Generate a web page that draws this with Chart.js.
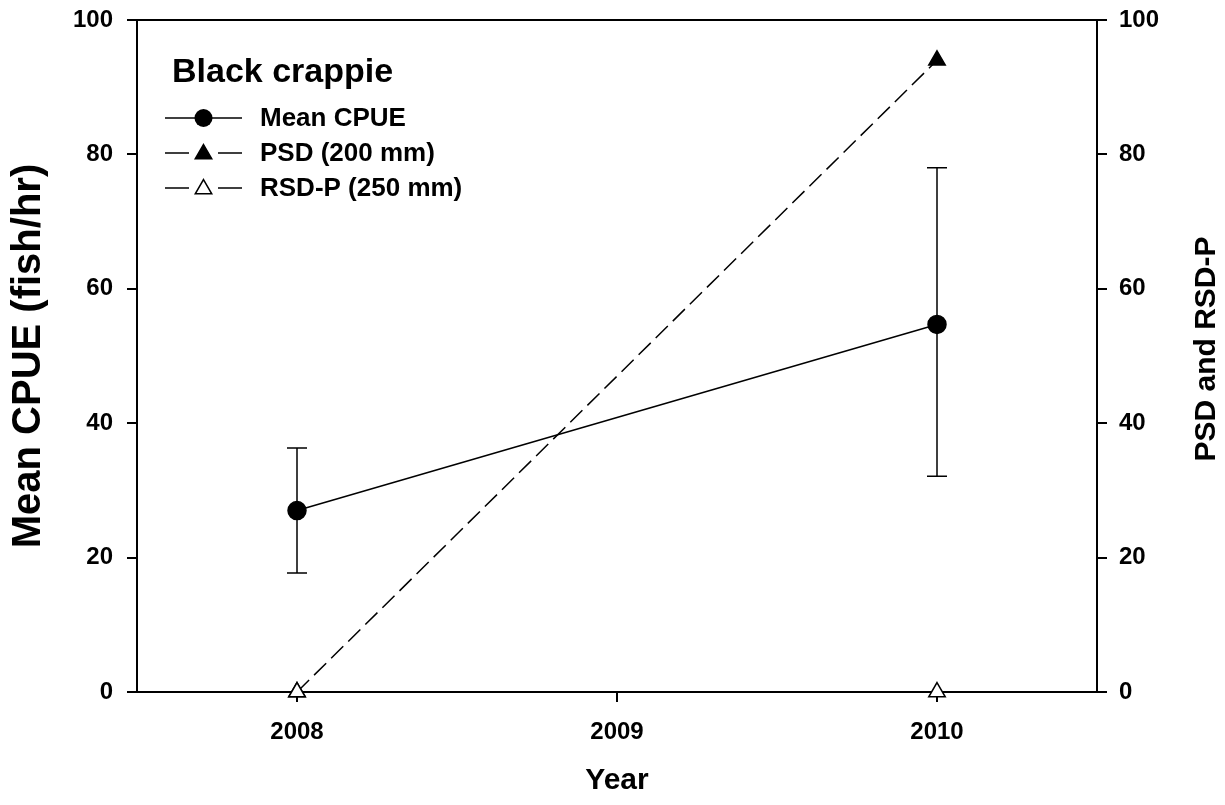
<!DOCTYPE html>
<html>
<head>
<meta charset="utf-8">
<title>Black crappie</title>
<script src="https://cdn.jsdelivr.net/npm/chart.js@4/dist/chart.umd.min.js"></script>
<style>
  html, body { margin: 0; padding: 0; background: #fff; }
  #wrap { width: 1225px; height: 805px; }
</style>
</head>
<body>
<div id="wrap"><canvas id="chart" width="1225" height="805"></canvas></div>
<script>
// donnees
const years = [2008, 2010];
const cpueMean = [27, 54.7];
const cpueLow = [17.7, 32.1];
const cpueHigh = [36.3, 78];
const psd = [0, 94];
const rsdP = [0, 0];
const xTicks = [2008, 2009, 2010];
const legendTitle = 'Black crappie';
const legendLabels = ['Mean CPUE', 'PSD (200 mm)', 'RSD-P (250 mm)'];

const FONT = '"Liberation Sans", Arial, Helvetica, sans-serif';
const DASH = [17, 7];

function pts(ys) {
    return years.map((x, i) => ({ x: x, y: ys[i] }));
}

// barres d'erreur autour de la moyenne
const errorBars = {
    id: 'errorBars',
    beforeDatasetsDraw(chart) {
        const ctx = chart.ctx;
        const xs = chart.scales.x, ys = chart.scales.y;
        ctx.save();
        ctx.strokeStyle = '#000';
        ctx.lineWidth = 1.5;
        years.forEach((yr, i) => {
            const px = xs.getPixelForValue(yr);
            const top = ys.getPixelForValue(cpueHigh[i]);
            const bot = ys.getPixelForValue(cpueLow[i]);
            ctx.beginPath();
            ctx.moveTo(px, top); ctx.lineTo(px, bot);
            ctx.moveTo(px - 10, top); ctx.lineTo(px + 10, top);
            ctx.moveTo(px - 10, bot); ctx.lineTo(px + 10, bot);
            ctx.stroke();
        });
        ctx.restore();
    }
};

function drawTriangle(ctx, x, y, r, fill) {
    const side = 3 * r / Math.sqrt(3);
    const h = side * Math.sqrt(3) / 2;
    ctx.beginPath();
    ctx.moveTo(x, y - 2 * h / 3);
    ctx.lineTo(x + side / 2, y + h / 3);
    ctx.lineTo(x - side / 2, y + h / 3);
    ctx.closePath();
    ctx.fillStyle = fill;
    ctx.fill();
    ctx.stroke();
}

// legende dessinee a la main (ligne + symbole)
const customLegend = {
    id: 'customLegend',
    afterDraw(chart) {
        const ctx = chart.ctx;
        ctx.save();
        ctx.fillStyle = '#000';
        ctx.strokeStyle = '#000';
        ctx.textBaseline = 'alphabetic';
        ctx.font = 'bold 34px ' + FONT;
        ctx.fillText(legendTitle, 172, 82);

        const rows = [118, 153, 188];
        ctx.font = 'bold 26px ' + FONT;
        ctx.textBaseline = 'middle';
        rows.forEach((y, i) => {
            ctx.lineWidth = 1.5;
            ctx.beginPath();
            if (i === 0) {
                ctx.moveTo(165, y); ctx.lineTo(242, y);
            } else {
                ctx.moveTo(165, y); ctx.lineTo(189, y);
                ctx.moveTo(218, y); ctx.lineTo(242, y);
            }
            ctx.stroke();
            if (i === 0) {
                ctx.beginPath();
                ctx.arc(203.5, y, 9, 0, Math.PI * 2);
                ctx.fillStyle = '#000';
                ctx.fill();
            } else {
                drawTriangle(ctx, 203.5, y + 1, 9.5, i === 1 ? '#000' : '#fff');
            }
            ctx.fillStyle = '#000';
            ctx.fillText(legendLabels[i], 260, y + 1);
        });

        // titre de l'axe de droite, lu de bas en haut
        ctx.font = 'bold 30px ' + FONT;
        ctx.textAlign = 'center';
        ctx.textBaseline = 'middle';
        const ca = chart.chartArea;
        ctx.translate(1207, (ca.top + ca.bottom) / 2 - 7);
        ctx.rotate(-Math.PI / 2);
        ctx.fillText('PSD and RSD-P', 0, 0);
        ctx.restore();
    }
};

const tickFont = { family: FONT, size: 24, weight: 'bold' };

// pas de marge ajoutee pour les etiquettes en bout d'axe
function noPad(s) {
    s.paddingTop = 0;
    s.paddingBottom = 0;
}

const ctx = document.getElementById('chart').getContext('2d');
const chart = new Chart(ctx, {
    type: 'line',
    data: {
        datasets: [
            {
                label: legendLabels[2],
                data: pts(rsdP),
                yAxisID: 'y2',
                borderColor: '#000',
                borderWidth: 1.5,
                borderDash: DASH,
                pointStyle: 'triangle',
                pointRadius: 9.5,
                pointBackgroundColor: '#fff',
                pointBorderColor: '#000',
                pointBorderWidth: 1.5,
                clip: false,
                order: 0
            },
            {
                label: legendLabels[1],
                data: pts(psd),
                yAxisID: 'y2',
                borderColor: '#000',
                borderWidth: 1.5,
                borderDash: DASH,
                pointStyle: 'triangle',
                pointRadius: 9.5,
                pointBackgroundColor: '#000',
                pointBorderColor: '#000',
                pointBorderWidth: 1.5,
                clip: false,
                order: 1
            },
            {
                label: legendLabels[0],
                data: pts(cpueMean),
                yAxisID: 'y',
                borderColor: '#000',
                borderWidth: 1.5,
                pointStyle: 'circle',
                pointRadius: 9,
                pointBackgroundColor: '#000',
                pointBorderColor: '#000',
                clip: false,
                order: 2
            }
        ]
    },
    options: {
        responsive: false,
        animation: false,
        devicePixelRatio: 1,
        layout: { padding: 0 },
        plugins: {
            legend: { display: false },
            tooltip: { enabled: false }
        },
        scales: {
            x: {
                type: 'linear',
                position: 'bottom',
                min: 2007.5,
                max: 2010.5,
                afterBuildTicks: s => { s.ticks = xTicks.map(v => ({ value: v })); },
                afterFit: s => { s.height = 113; s.paddingLeft = 0; s.paddingRight = 0; },
                grid: { drawOnChartArea: false, tickLength: 10, color: '#000', lineWidth: 2 },
                border: { color: '#000', width: 2 },
                ticks: { color: '#000', font: tickFont, padding: 16, maxRotation: 0, callback: v => String(v) },
                title: {
                    display: true, text: 'Year', color: '#000',
                    font: { family: FONT, size: 30, weight: 'bold' },
                    padding: { top: 0, bottom: 6 }
                }
            },
            xTop: {
                type: 'linear',
                position: 'top',
                min: 2007.5,
                max: 2010.5,
                afterFit: s => { s.height = 20; s.paddingLeft = 0; s.paddingRight = 0; },
                grid: { display: false },
                border: { color: '#000', width: 2 },
                ticks: { display: false }
            },
            y: {
                position: 'left',
                min: 0,
                max: 100,
                afterFit: s => { s.width = 137; noPad(s); },
                grid: { drawOnChartArea: false, tickLength: 10, color: '#000', lineWidth: 2 },
                border: { color: '#000', width: 2 },
                ticks: { stepSize: 20, color: '#000', font: tickFont, padding: 14 },
                title: {
                    display: true, text: 'Mean CPUE (fish/hr)', color: '#000',
                    font: { family: FONT, size: 40, weight: 'bold' },
                    padding: { top: 5, bottom: 0 }
                }
            },
            y2: {
                position: 'right',
                min: 0,
                max: 100,
                afterFit: s => { s.width = 128; noPad(s); },
                grid: { drawOnChartArea: false, tickLength: 10, color: '#000', lineWidth: 2 },
                border: { color: '#000', width: 2 },
                ticks: { stepSize: 20, color: '#000', font: tickFont, padding: 12 }
            }
        }
    },
    plugins: [errorBars, customLegend]
});
</script>
</body>
</html>
